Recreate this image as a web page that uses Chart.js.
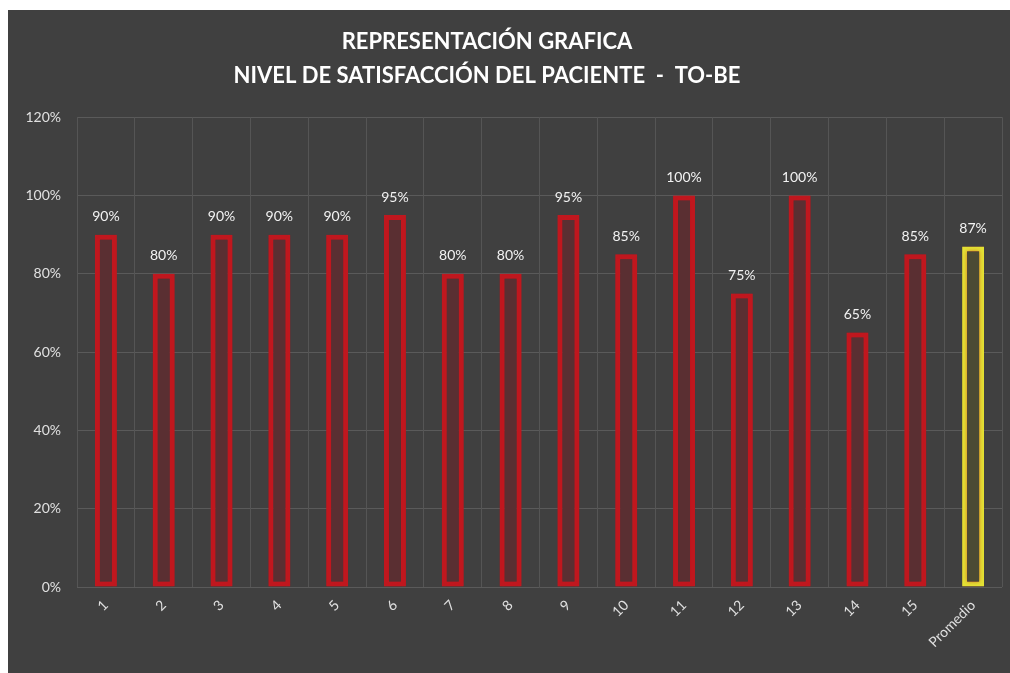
<!DOCTYPE html>
<html>
<head>
<meta charset="utf-8">
<script src="https://cdn.jsdelivr.net/npm/chart.js@4/dist/chart.umd.min.js"></script>
<style>
    html, body { margin: 0; padding: 0; background: #ffffff; }
    #wrap {
        position: absolute;
        left: 8px;
        top: 10px;
        width: 1002px;
        height: 663px;
        background: #404040;
    }
</style>
</head>
<body>
<div id="wrap"><canvas id="satChart" width="1002" height="663"></canvas></div>
<script>
const categories = ['1', '2', '3', '4', '5', '6', '7', '8', '9', '10', '11', '12', '13', '14', '15', 'Promedio'];
const satisfaction = [90, 80, 90, 90, 90, 95, 80, 80, 95, 85, 100, 75, 100, 65, 85, 87];
const yTicks = [0, 20, 40, 60, 80, 100, 120];
const titleLines = ['REPRESENTACIÓN GRAFICA', 'NIVEL DE SATISFACCIÓN DEL PACIENTE  -  TO-BE'];

const FONT = "Lato, 'Open Sans', sans-serif";

// red for the 15 items, yellow for the average
const borderColors = categories.map(c => c === 'Promedio' ? '#e3e234' : '#c0181f');
const fillColors = categories.map(c => c === 'Promedio' ? '#4b4a34' : '#5a2f32');

// Draws the percentage above each bar
const valueLabels = {
    id: 'valueLabels',
    afterDatasetsDraw(chart) {
        const ctx = chart.ctx;
        const meta = chart.getDatasetMeta(0);
        ctx.save();
        ctx.font = '14px ' + FONT;
        ctx.fillStyle = '#f2f2f2';
        ctx.textAlign = 'center';
        ctx.textBaseline = 'middle';
        meta.data.forEach((bar, i) => {
            ctx.fillText(satisfaction[i] + '%', bar.x, bar.y - 18);
        });
        ctx.restore();
    }
};

// soft glow around the bars
const barGlow = {
    id: 'barGlow',
    beforeDatasetsDraw(chart) {
        chart.ctx.save();
        chart.ctx.shadowColor = 'rgba(200, 20, 30, 0.55)';
        chart.ctx.shadowBlur = 4;
    },
    afterDatasetsDraw(chart) {
        chart.ctx.restore();
    }
};

// the original title sits a little left of the middle
const titleShift = {
    id: 'titleShift',
    afterLayout(chart) {
        if (chart.titleBlock) {
            chart.titleBlock.right -= 46;
        }
    }
};

const ctx = document.getElementById('satChart').getContext('2d');
new Chart(ctx, {
    type: 'bar',
    data: {
        labels: categories,
        datasets: [{
            data: satisfaction,
            backgroundColor: fillColors,
            borderColor: borderColors,
            borderWidth: 5,
            borderSkipped: false,
            categoryPercentage: 1.0,
            barPercentage: 0.38
        }]
    },
    options: {
        responsive: false,
        animation: false,
        layout: {
            padding: { left: 10, right: 8, top: 0, bottom: 0 }
        },
        plugins: {
            legend: { display: false },
            tooltip: { enabled: false },
            title: {
                display: true,
                text: titleLines,
                color: '#ffffff',
                font: { family: FONT, size: 22, weight: 'bold', lineHeight: 1.55 },
                padding: { top: 15, bottom: 24 }
            }
        },
        scales: {
            y: {
                min: 0,
                max: 120,
                afterBuildTicks(scale) {
                    scale.ticks = yTicks.map(v => ({ value: v }));
                },
                afterFit(scale) {
                    scale.width = 59;
                },
                ticks: {
                    callback: v => v + '%',
                    color: '#e0e0e0',
                    font: { family: FONT, size: 14 },
                    padding: 16
                },
                grid: { color: '#5a5a5a', lineWidth: 1, drawTicks: false },
                border: { display: false }
            },
            x: {
                afterFit(scale) {
                    scale.height = 86;
                },
                ticks: {
                    color: '#e0e0e0',
                    font: { family: FONT, size: 14 },
                    minRotation: 45,
                    maxRotation: 45,
                    padding: 10
                },
                grid: { color: '#555555', lineWidth: 1, offset: true, drawTicks: false },
                border: { display: false }
            }
        }
    },
    plugins: [titleShift, barGlow, valueLabels]
});
</script>
</body>
</html>
